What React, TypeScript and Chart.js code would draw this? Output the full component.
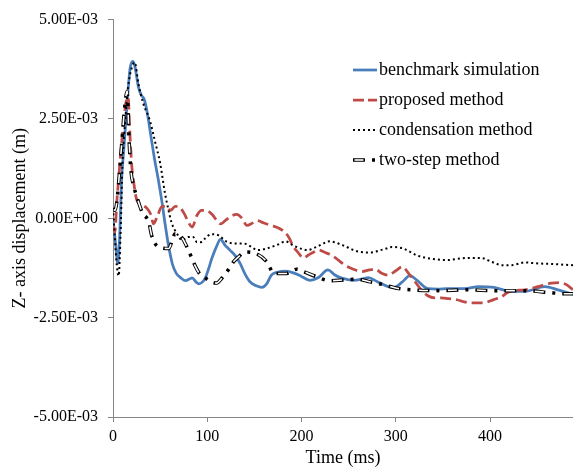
import React, { useEffect, useRef } from 'react';
import { Chart, registerables } from 'chart.js';

Chart.register(...registerables);

// Values (time in ms, displacement in mm -> converted to m)
const benchmarkTime = [0,3,5,7,9,12,15,18,21,23,27,30,33,36,40,44,48,52,55,59,63,67,72,77,81,84,88,91,95,98,101,105,110,114,119,124,130,135,140,145,152,158,163,168,174,184,192,199,209,218,228,235,242,255,264,271,280,292,298,307,315,322,334,345,354,373,388,404,423,437,458,472,488];
const benchmarkMm = [0,-0.7,-1.14,-0.5,0.9,1.9,2.9,3.75,3.95,3.85,3.3,3.1,3.0,2.7,2.1,1.5,0.98,0.4,-0.1,-0.7,-1.15,-1.38,-1.5,-1.57,-1.53,-1.5,-1.6,-1.65,-1.6,-1.5,-1.3,-1.0,-0.7,-0.53,-0.68,-0.8,-0.95,-1.14,-1.4,-1.59,-1.7,-1.74,-1.65,-1.43,-1.36,-1.33,-1.38,-1.45,-1.56,-1.49,-1.3,-1.42,-1.5,-1.56,-1.53,-1.49,-1.59,-1.72,-1.74,-1.6,-1.44,-1.55,-1.77,-1.78,-1.77,-1.77,-1.72,-1.74,-1.84,-1.84,-1.72,-1.8,-1.91];

const proposedTime = [0,2,4,6,9,12,14,16,18,20,22,25,30,36,40,43,47,52,57,61,66,71,76,80,84,89,94,99,105,110,114,119,125,131,137,142,148,153,160,168,176,183,187,191,196,202,207,213,218,225,232,239,246,255,264,272,278,285,292,300,307,314,320,327,334,341,348,356,365,372,380,393,400,406,412,419,426,437,451,465,474,481,488];
const proposedMm = [-0.2,-0.35,0.4,1.0,1.85,2.6,2.95,3.05,2.1,1.3,0.9,0.48,0.35,0.25,0.1,-0.14,0.05,0.3,0.3,0.2,0.3,0.27,0.1,-0.1,-0.22,0.07,0.2,0.2,0.1,-0.05,-0.14,-0.06,0.05,0.1,0.0,-0.18,-0.12,-0.06,-0.12,-0.18,-0.25,-0.37,-0.5,-0.7,-0.85,-1.0,-0.93,-0.85,-0.8,-0.86,-0.93,-1.05,-1.18,-1.28,-1.34,-1.3,-1.28,-1.38,-1.43,-1.32,-1.22,-1.4,-1.58,-1.8,-1.95,-2.0,-2.0,-2.02,-2.05,-2.1,-2.13,-2.13,-2.08,-2.03,-1.98,-1.86,-1.82,-1.8,-1.72,-1.63,-1.62,-1.67,-1.8];

const condensationTime = [0,2,4,6,8,10,13,16,20,23,27,32,39,45,50,55,58,62,68,73,80,85,89,93,98,104,112,120,128,140,147,153,163,175,183,191,200,206,216,230,237,244,259,274,284,290,296,308,322,336,354,375,391,402,413,423,437,447,465,488];
const condensationMm = [0.25,-0.5,-1.18,-1.45,-0.4,1.3,2.47,3.3,3.8,3.92,3.38,2.9,2.47,1.89,1.39,0.65,0.3,-0.1,-0.39,-0.55,-0.47,-0.47,-0.6,-0.6,-0.5,-0.4,-0.43,-0.58,-0.63,-0.64,-0.72,-0.8,-0.76,-0.66,-0.58,-0.68,-0.77,-0.8,-0.72,-0.58,-0.62,-0.68,-0.83,-0.86,-0.8,-0.76,-0.72,-0.76,-0.93,-1.01,-1.05,-1.0,-1.0,-1.1,-1.18,-1.18,-1.11,-1.13,-1.15,-1.18];

const twoStepTime = [0,2,4,6,9,12,15,17,19,22,25,31,38,41,48,59,66,72,80,86,92,98,103,110,115,121,128,134,140,152,163,171,183,195,200,216,230,245,259,273,287,301,317,345,375,405,434,464,478,488];
const twoStepMm = [0.25,0.2,0.4,0.9,1.8,2.7,3.2,2.0,1.2,0.81,0.56,0.15,-0.1,-0.43,-0.72,-0.76,-0.39,-0.45,-0.8,-1.14,-1.4,-1.5,-1.59,-1.63,-1.52,-1.34,-1.09,-0.95,-0.85,-0.89,-1.09,-1.39,-1.39,-1.28,-1.32,-1.47,-1.57,-1.55,-1.53,-1.6,-1.67,-1.76,-1.8,-1.82,-1.8,-1.82,-1.82,-1.87,-1.9,-1.9];

const seriesNames = ['benchmark simulation', 'proposed method', 'condensation method', 'two-step method'];
const xTitle = 'Time (ms)';
const yTitle = 'Z- axis displacement (m)';
const xMin = 0;
const xMax = 488;
const xStep = 100;
const yMin = -0.005;
const yMax = 0.005;
const yStep = 0.0025;

const FONT = '"Liberation Serif", "Times New Roman", serif';
const BLUE = '#4A7EBB';
const RED = '#BE4B48';
const AXIS = '#868686';
const TWO_DASH = [12, 7, 3, 7];
const TWO_WHITE = [9, 20];
const TWO_OFFSET = -1.5;

function sci(v: number): string {
  if (Math.abs(v) < 1e-12) v = 0;
  const s = v.toExponential(2);
  const [m, e] = s.split('e');
  const n = parseInt(e, 10);
  return m + 'E' + (n < 0 ? '-' : '+') + String(Math.abs(n)).padStart(2, '0');
}

function pts(t: number[], mm: number[]) {
  return t.map((x, i) => ({ x, y: mm[i] / 1000 }));
}

export default function App() {
  const ref = useRef<HTMLCanvasElement | null>(null);

  useEffect(() => {
    document.body.style.margin = '0';
    const canvas = ref.current;
    if (!canvas) return;

    const legendPlugin = {
      id: 'insideLegend',
      afterDraw(chart: any) {
        const ctx = chart.ctx as CanvasRenderingContext2D;
        const x0 = 353;
        const x1 = 377;
        const tx = 379;
        const rows = [70, 100, 130, 160];
        ctx.save();
        ctx.font = `18px ${FONT}`;
        ctx.textBaseline = 'middle';
        ctx.textAlign = 'left';
        rows.forEach((y, i) => {
          ctx.save();
          ctx.beginPath();
          ctx.moveTo(x0, y);
          ctx.lineTo(x1, y);
          if (i === 0) {
            ctx.strokeStyle = BLUE; ctx.lineWidth = 2.75; ctx.setLineDash([]);
            ctx.stroke();
          } else if (i === 1) {
            ctx.strokeStyle = RED; ctx.lineWidth = 2.75; ctx.setLineDash([11, 4]);
            ctx.stroke();
          } else if (i === 2) {
            ctx.strokeStyle = '#000'; ctx.lineWidth = 2; ctx.setLineDash([2, 3]);
            ctx.stroke();
          } else {
            ctx.strokeStyle = '#000'; ctx.lineWidth = 3.5; ctx.setLineDash(TWO_DASH);
            ctx.stroke();
            ctx.beginPath();
            ctx.moveTo(x0, y);
            ctx.lineTo(x1, y);
            ctx.strokeStyle = '#fff'; ctx.lineWidth = 1.6; ctx.setLineDash(TWO_WHITE);
            ctx.lineDashOffset = TWO_OFFSET;
            ctx.stroke();
          }
          ctx.restore();
          ctx.fillStyle = '#000';
          ctx.fillText(seriesNames[i], tx, y);
        });
        ctx.restore();
      },
    };

    const common = {
      pointRadius: 0,
      pointHoverRadius: 0,
      fill: false,
      cubicInterpolationMode: 'monotone' as const,
    };

    const chart = new Chart(canvas, {
      type: 'line',
      data: {
        datasets: [
          {
            ...common,
            label: seriesNames[3] + ' (inner)',
            data: pts(twoStepTime, twoStepMm),
            borderColor: '#ffffff',
            borderWidth: 1.6,
            borderDash: TWO_WHITE,
            borderDashOffset: TWO_OFFSET,
          },
          {
            ...common,
            label: seriesNames[3],
            data: pts(twoStepTime, twoStepMm),
            borderColor: '#000000',
            borderWidth: 3.5,
            borderDash: TWO_DASH,
          },
          {
            ...common,
            label: seriesNames[2],
            data: pts(condensationTime, condensationMm),
            borderColor: '#000000',
            borderWidth: 2,
            borderDash: [2, 3],
          },
          {
            ...common,
            label: seriesNames[1],
            data: pts(proposedTime, proposedMm),
            borderColor: RED,
            borderWidth: 2.75,
            borderDash: [11, 5],
          },
          {
            ...common,
            label: seriesNames[0],
            data: pts(benchmarkTime, benchmarkMm),
            borderColor: BLUE,
            borderWidth: 2.75,
          },
        ],
      },
      options: {
        animation: false,
        responsive: false,
        devicePixelRatio: 1,
        layout: { padding: { top: 15, right: 0, bottom: 0, left: 0 } },
        plugins: {
          legend: { display: false },
          tooltip: { enabled: false },
        },
        scales: {
          x: {
            type: 'linear',
            min: xMin,
            max: xMax,
            afterFit: (s: any) => { s.height = 52; },
            ticks: {
              stepSize: xStep,
              includeBounds: false,
              color: '#000',
              padding: 5,
              maxRotation: 0,
              font: { family: FONT, size: 16 },
            },
            grid: {
              display: true,
              drawOnChartArea: false,
              drawTicks: true,
              tickLength: 5,
              color: AXIS,
            },
            border: { display: true, color: AXIS, width: 1 },
            title: {
              display: true,
              text: xTitle,
              color: '#000',
              font: { family: FONT, size: 18 },
              padding: { top: 0, bottom: 0 },
            },
          },
          y: {
            type: 'linear',
            min: yMin,
            max: yMax,
            afterFit: (s: any) => { s.width = 113; },
            ticks: {
              stepSize: yStep,
              color: '#000',
              padding: 10,
              font: { family: FONT, size: 16 },
              callback: (v: any) => sci(Number(v)),
            },
            grid: {
              display: true,
              drawOnChartArea: false,
              drawTicks: true,
              tickLength: 5,
              color: AXIS,
            },
            border: { display: true, color: AXIS, width: 1 },
            title: {
              display: true,
              text: yTitle,
              color: '#000',
              font: { family: FONT, size: 18 },
              padding: { top: 9, bottom: 0 },
            },
          },
        },
      },
      plugins: [legendPlugin],
    } as any);

    return () => chart.destroy();
  }, []);

  return (
    <div style={{ width: 573, height: 469 }}>
      <canvas ref={ref} width={573} height={469} style={{ display: 'block' }} />
    </div>
  );
}
